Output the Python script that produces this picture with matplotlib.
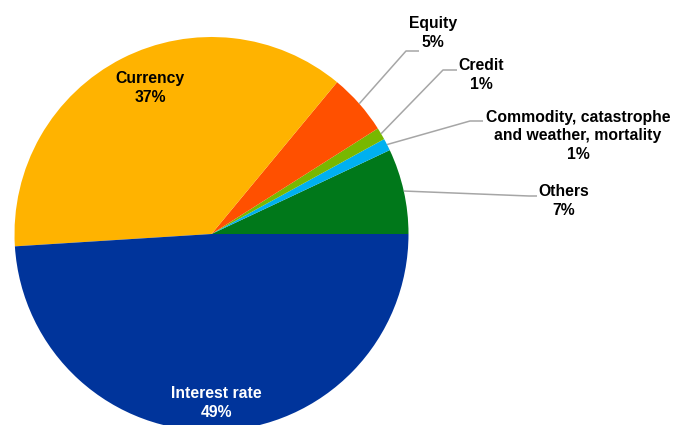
import numpy as np
import matplotlib.pyplot as plt

plt.rcParams['font.family'] = ['Liberation Sans', 'DejaVu Sans']

# derivative exposures by risk category (share of total, %)
categories = ['Others', 'Commodity, catastrophe\nand weather, mortality', 'Credit',
              'Equity', 'Currency', 'Interest rate']
shares = [7, 1, 1, 5, 37, 49]
colors = ['#00781a', '#00b0f0', '#78b800', '#ff5000', '#ffb300', '#00349b']

# label placement (data units, pie radius = 1)
inside_pos = {'Currency': (-0.312, 0.742), 'Interest rate': (0.023, -0.857)}
outside_pos = {
    'Equity': (1.124, 1.020),
    'Credit': (1.368, 0.807),
    'Commodity, catastrophe\nand weather, mortality': (1.860, 0.498),
    'Others': (1.789, 0.168),
}
# leader line elbow and end points, in pixels from top-left
leader_px = {
    'Equity': [(406, 51), (419, 51)],
    'Credit': [(443, 70), (457, 70)],
    'Commodity, catastrophe\nand weather, mortality': [(470, 121), (483, 121)],
    'Others': [(529, 196), (537, 196)],
}

cx, cy, r = 211.5, 234.0, 197.0
W, H = 674, 425

def px2d(p):
    return ((p[0] - cx) / r, (cy - p[1]) / r)

fig = plt.figure(figsize=(W / 100, H / 100), dpi=100)
ax = fig.add_axes([0, 0, 1, 1])

wedges, _ = ax.pie(shares, colors=colors, startangle=0, counterclock=True,
                   radius=1, wedgeprops=dict(linewidth=0))

for w, name, val in zip(wedges, categories, shares):
    label = f'{name}\n{val}%'
    if name in inside_pos:
        x, y = inside_pos[name]
        tc = 'white' if name == 'Interest rate' else 'black'
        ax.text(x, y, label, ha='center', va='center', fontsize=11.3,
                fontweight='bold', color=tc, linespacing=1.3)
    else:
        mid = np.deg2rad((w.theta1 + w.theta2) / 2)
        pts = [(np.cos(mid), np.sin(mid))] + [px2d(p) for p in leader_px[name]]
        xs, ys = zip(*pts)
        ax.plot(xs, ys, color='#a6a6a6', lw=1.1, solid_capstyle='butt')
        x, y = outside_pos[name]
        ax.text(x, y, label, ha='center', va='center', fontsize=11.3,
                fontweight='bold', color='black', linespacing=1.3)

ax.set_xlim(-cx / r, (W - cx) / r)
ax.set_ylim(-(H - cy) / r, cy / r)
ax.set_aspect('auto')
ax.axis('off')

fig.savefig('out.png', dpi=100)
